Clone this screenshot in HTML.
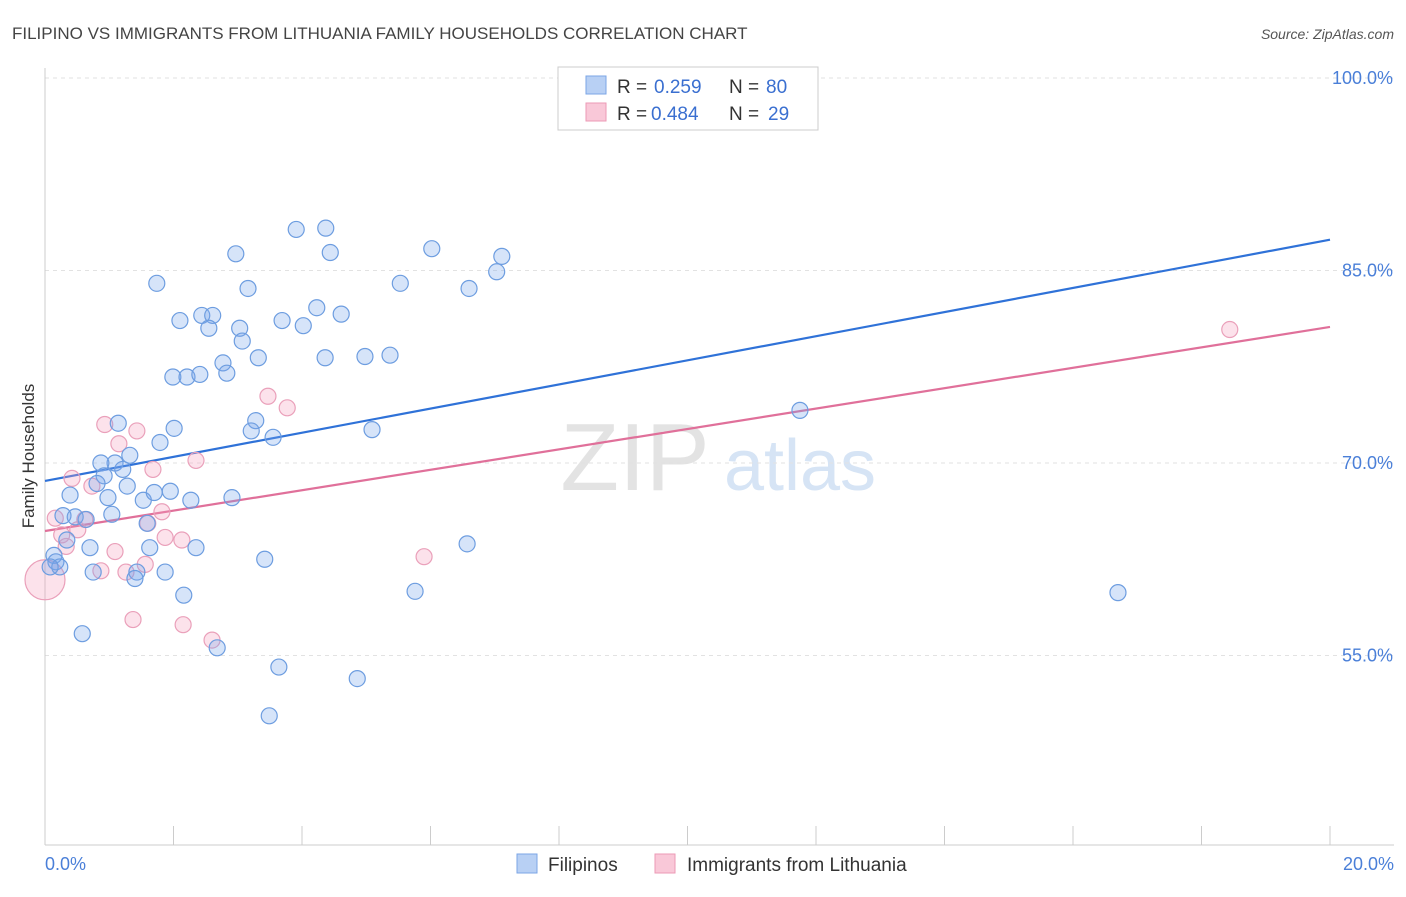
<!DOCTYPE html>
<html><head><meta charset="utf-8"><style>
body{margin:0;background:#fff;font-family:"Liberation Sans",sans-serif;}
svg text{font-family:"Liberation Sans",sans-serif;}
</style></head><body>
<svg id="chart" width="1406" height="892" viewBox="0 0 1406 892" xmlns="http://www.w3.org/2000/svg">
<text x="12" y="39" font-size="17" fill="#444">FILIPINO VS IMMIGRANTS FROM LITHUANIA FAMILY HOUSEHOLDS CORRELATION CHART</text>
<text x="1394" y="39" font-size="14" fill="#555" text-anchor="end" font-style="italic">Source: ZipAtlas.com</text>
<text transform="translate(34,456) rotate(-90)" font-size="17" fill="#333" text-anchor="middle">Family Households</text>
<g>
<text x="635" y="490" font-size="96" fill="#e3e3e3" text-anchor="middle" font-family="Liberation Serif,serif">ZIP</text>
<text x="800" y="490" font-size="72" fill="#d6e4f5" text-anchor="middle">atlas</text>
</g>
<g id="grid"></g>
<g id="axes"></g>
<g id="lines"></g>
<g id="pts"></g>
<g>
<rect x="558" y="67" width="260" height="63" fill="#fff" stroke="#ccc"/>
<rect x="586" y="76" width="20" height="18" fill="#b8d0f4" stroke="#7ba6e6"/>
<text x="617" y="93" font-size="19" fill="#333">R =</text><text x="654" y="93" font-size="19" fill="#3a6fd0">0.259</text>
<text x="729" y="93" font-size="19" fill="#333">N =</text><text x="766" y="93" font-size="19" fill="#3a6fd0">80</text>
<rect x="586" y="103" width="20" height="18" fill="#f9c8d8" stroke="#ec9ab6"/>
<text x="617" y="120" font-size="19" fill="#333">R =</text><text x="651" y="120" font-size="19" fill="#3a6fd0">0.484</text>
<text x="729" y="120" font-size="19" fill="#333">N =</text><text x="768" y="120" font-size="19" fill="#3a6fd0">29</text>
</g>
<g>
<rect x="517" y="854" width="20" height="19" fill="#b8d0f4" stroke="#7ba6e6"/>
<text x="548" y="871" font-size="19" fill="#333">Filipinos</text>
<rect x="655" y="854" width="20" height="19" fill="#f9c8d8" stroke="#ec9ab6"/>
<text x="687" y="871" font-size="19" fill="#333">Immigrants from Lithuania</text>
</g>
</svg>
<script>
const yTicks=[55,70,85,100];
const yTickLabels=["55.0%","70.0%","85.0%","100.0%"];
const xTickLabels=["0.0%","20.0%"];
const blueX=[3.91,4.37,2.97,4.44,6.02,7.11,1.74,3.16,5.53,6.60,7.03,2.10,2.44,2.61,2.55,3.03,3.69,4.02,4.23,4.61,3.07,2.77,3.32,4.36,4.98,5.37,1.99,2.21,2.41,2.83,1.14,2.01,1.79,3.28,3.21,3.55,5.09,1.32,1.09,0.87,1.21,0.92,0.81,0.39,0.98,1.28,1.53,1.70,1.95,2.27,2.91,1.04,0.28,0.47,0.64,1.59,0.34,0.70,1.63,2.35,0.14,0.17,0.23,0.08,0.75,1.43,1.87,1.40,3.42,2.16,5.76,6.57,0.58,2.68,3.64,4.86,3.49,11.75,16.70];
const blueY=[88.2,88.3,86.3,86.4,86.7,86.1,84.0,83.6,84.0,83.6,84.9,81.1,81.5,81.5,80.5,80.5,81.1,80.7,82.1,81.6,79.5,77.8,78.2,78.2,78.3,78.4,76.7,76.7,76.9,77.0,73.1,72.7,71.6,73.3,72.5,72.0,72.6,70.6,70.0,70.0,69.5,69.0,68.4,67.5,67.3,68.2,67.1,67.7,67.8,67.1,67.3,66.0,65.9,65.8,65.6,65.3,64.0,63.4,63.4,63.4,62.8,62.3,61.9,61.9,61.5,61.5,61.5,61.0,62.5,59.7,60.0,63.7,56.7,55.6,54.1,53.2,50.3,74.1,59.9];
const pinkX=[3.47,3.77,0.93,1.43,1.15,2.35,1.68,0.42,0.73,1.82,1.60,0.16,0.62,0.51,0.26,0.33,2.13,1.87,1.09,0.87,1.26,1.56,5.90,1.37,2.15,2.60,0.0,18.44];
const pinkY=[75.2,74.3,73.0,72.5,71.5,70.2,69.5,68.8,68.2,66.2,65.3,65.7,65.6,64.8,64.4,63.5,64.0,64.2,63.1,61.6,61.5,62.1,62.7,57.8,57.4,56.2,60.9,80.4];
const blueTrend=[68.6,87.4];
const pinkTrend=[64.7,80.6];
const X0=45,X1=1330,Yb=845;
const sx=v=>X0+(v/20)*(X1-X0);
const sy=v=>78+(100-v)*(192.5/15);
const NS="http://www.w3.org/2000/svg";
function mk(tag,parent,attrs){const e=document.createElementNS(NS,tag);for(const k in attrs)e.setAttribute(k,attrs[k]);parent.appendChild(e);return e;}
const grid=document.getElementById('grid'),axes=document.getElementById('axes');
yTicks.forEach((t,i)=>{
 const l=mk('line',grid,{x1:X0,x2:1394,y1:sy(t),y2:sy(t),stroke:'#e2e2e2','stroke-dasharray':'4,4'});
 
 
 const tx=mk('text',axes,{x:1393,y:sy(t)+6,'font-size':18,fill:'#4a7fd8','text-anchor':'end'});
 tx.textContent=yTickLabels[i];
 
 
});
mk('line',axes,{x1:X0,x2:X0,y1:68,y2:Yb,stroke:'#ccc'});
mk('line',axes,{x1:X0,x2:1394,y1:Yb,y2:Yb,stroke:'#ccc'});
for(let i=0;i<=10;i++){const t=mk('line',axes,{x1:sx(i*2),x2:sx(i*2),y1:826,y2:Yb,stroke:'#ccc'});}
const xl0=mk('text',axes,{x:45,y:870,'font-size':18,fill:'#4a7fd8'});xl0.textContent=xTickLabels[0];


const xl1=mk('text',axes,{x:1394,y:870,'font-size':18,fill:'#4a7fd8','text-anchor':'end'});xl1.textContent=xTickLabels[1];


const pts=document.getElementById('pts');
pinkX.forEach((x,i)=>{const c=mk('circle',pts,{cx:sx(x),cy:sy(pinkY[i]),r:(i===26?20:8),fill:'rgba(245,160,190,0.3)',stroke:'#eaa0ba','stroke-width':1.2});
 
 });
blueX.forEach((x,i)=>{const c=mk('circle',pts,{cx:sx(x),cy:sy(blueY[i]),r:8,fill:'rgba(120,165,235,0.3)',stroke:'#6d9de0','stroke-width':1.2});
 
 });
const lines=document.getElementById('lines');
const bl=mk('line',lines,{x1:sx(0),x2:sx(20),y1:sy(blueTrend[0]),y2:sy(blueTrend[1]),stroke:'#2f72d8','stroke-width':2.2});


const pl=mk('line',lines,{x1:sx(0),x2:sx(20),y1:sy(pinkTrend[0]),y2:sy(pinkTrend[1]),stroke:'#e0709a','stroke-width':2.2});


</script>
</body></html>
